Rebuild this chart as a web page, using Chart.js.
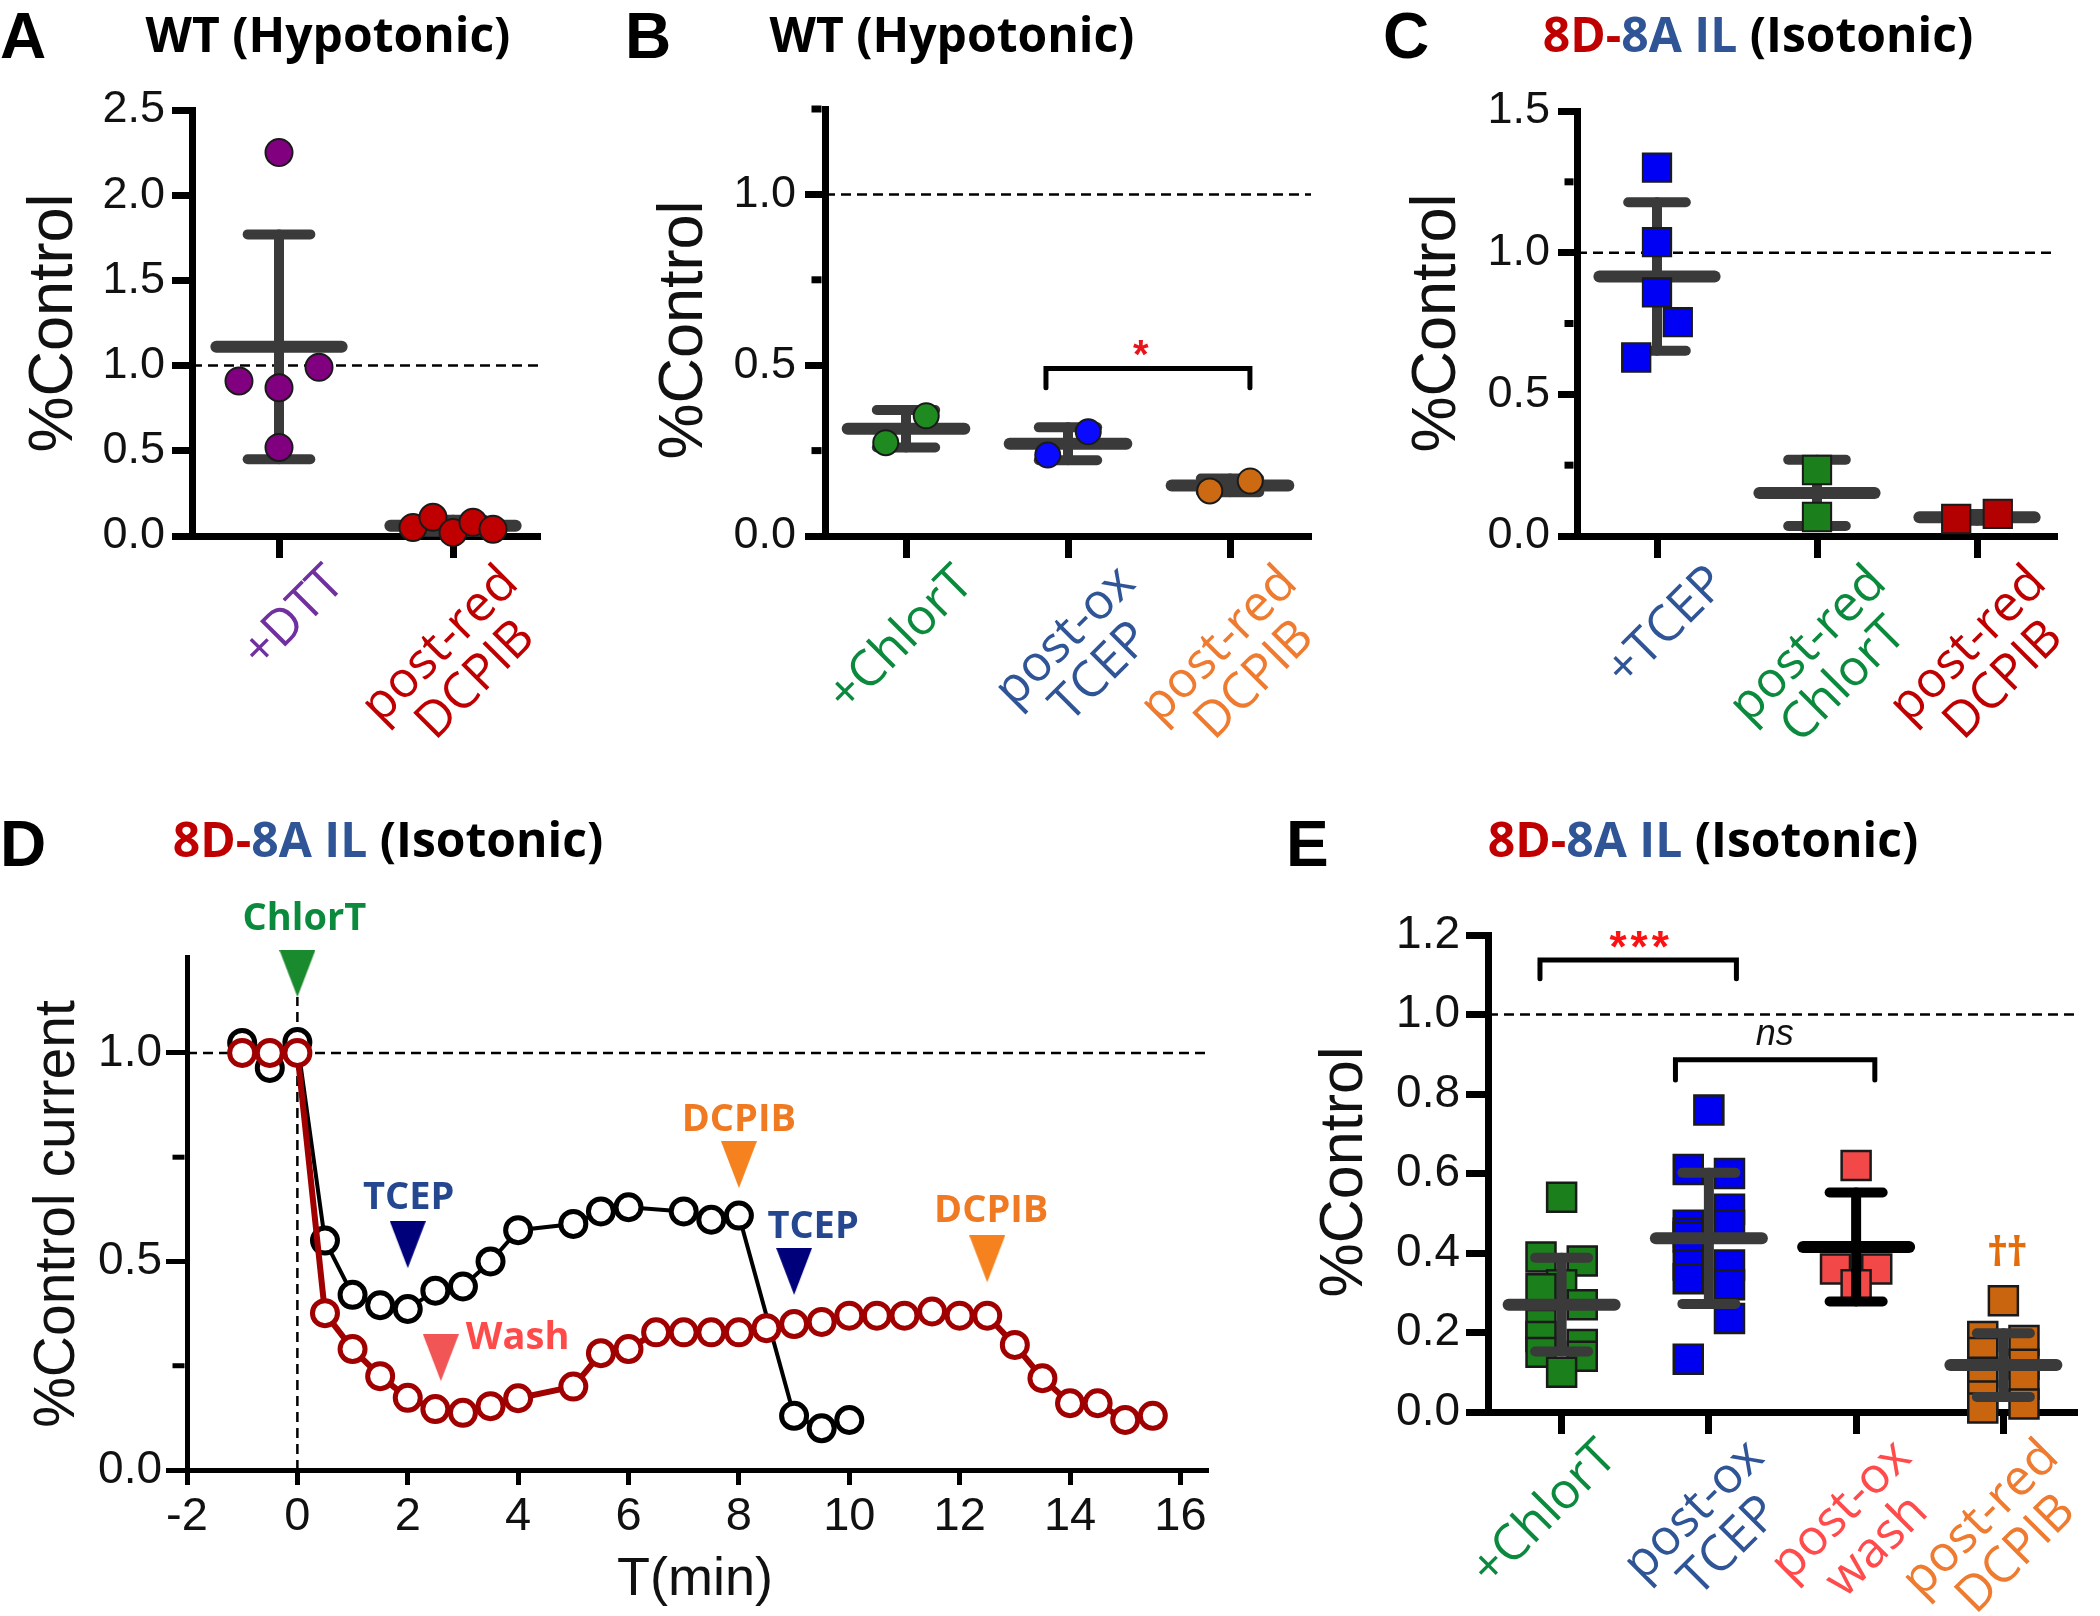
<!DOCTYPE html>
<html>
<head>
<meta charset="utf-8">
<title>Redox figure</title>
<script src="https://cdn.jsdelivr.net/npm/chart.js@4.4.1/dist/chart.umd.min.js"></script>
<style>
  html, body { margin: 0; padding: 0; background: #fff; }
  body { position: relative; width: 2100px; height: 1616px; overflow: hidden; }
  canvas { position: absolute; }
</style>
</head>
<body>
<canvas id="panelA"></canvas>
<canvas id="panelB"></canvas>
<canvas id="panelC"></canvas>
<canvas id="panelD"></canvas>
<canvas id="panelE"></canvas>
<script>
// ---------- data ----------
// A: WT (Hypotonic)
const A_CATS = [['+DTT'], ['post-red', 'DCPIB']];
const A_VALUES = [[2.25, 0.91, 0.87, 0.99, 0.52], [0.05, 0.11, 0.02, 0.08, 0.04]];
const A_SLOTS = [[0, -2, 0, 2, 0], [-2, -1, 0, 1, 2]];
const A_MEAN = [1.11, 0.06];
const A_SD = [0.66, 0.035];
const A_YTICKS = [0, 0.5, 1.0, 1.5, 2.0, 2.5];

// B: WT (Hypotonic)
const B_CATS = [['+ChlorT'], ['post-ox', 'TCEP'], ['post-red', 'DCPIB']];
const B_VALUES = [[0.273, 0.352], [0.237, 0.305], [0.132, 0.161]];
const B_SLOTS = [[-1, 1], [-1, 1], [-1, 1]];
const B_MEAN = [0.314, 0.27, 0.148];
const B_SD = [0.055, 0.048, 0.02];
const B_BRACKET = [0.864, 2.123, 0.49, 0.434];
const B_YTICKS = [0, 0.25, 0.5, 0.75, 1.0, 1.25];

// C: 8D-8A IL (Isotonic)
const C_CATS = [['+TCEP'], ['post-red', 'ChlorT'], ['post-red', 'DCPIB']];
const C_VALUES = [[1.30, 1.037, 0.86, 0.755, 0.63], [0.233, 0.067], [0.06, 0.078]];
const C_SLOTS = [[0, 0, 0, 1, -1], [0, 0], [-1, 1]];
const C_MEAN = [0.916, 0.152, 0.066];
const C_SD = [0.262, 0.117, 0.012];
const C_YTICKS = [0, 0.25, 0.5, 0.75, 1.0, 1.25, 1.5];

// D: time course
const D_BLACK_T = [-1, -0.5, 0, 0.5, 1, 1.5, 2, 2.5, 3, 3.5, 4, 5, 5.5, 6, 7, 7.5, 8, 9, 9.5, 10];
const D_BLACK_Y = [1.024, 0.964, 1.026, 0.55, 0.42, 0.395, 0.386, 0.43, 0.44, 0.50, 0.575, 0.59, 0.62, 0.63, 0.62, 0.60, 0.61, 0.13, 0.10, 0.12];
const D_RED_T = [-1, -0.5, 0, 0.5, 1, 1.5, 2, 2.5, 3, 3.5, 4, 5, 5.5, 6, 6.5, 7, 7.5, 8, 8.5, 9, 9.5, 10, 10.5, 11, 11.5, 12, 12.5, 13, 13.5, 14, 14.5, 15, 15.5];
const D_RED_Y = [1.0, 1.0, 1.0, 0.376, 0.29, 0.225, 0.173, 0.146, 0.137, 0.153, 0.172, 0.20, 0.28, 0.29, 0.33, 0.33, 0.33, 0.33, 0.34, 0.35, 0.355, 0.37, 0.37, 0.37, 0.38, 0.37, 0.37, 0.30, 0.22, 0.16, 0.16, 0.12, 0.13];
const D_ARROW_X = [0, 2, 2.6, 8, 9, 12.5];
const D_ARROW_TIP = [1.134, 0.484, 0.213, 0.676, 0.42, 0.45];
const D_ARROW_TEXT = ['ChlorT', 'TCEP', 'Wash', 'DCPIB', 'TCEP', 'DCPIB'];
const D_ARROW_KIND = ['chlor', 'tcep', 'wash', 'dcpib', 'tcep', 'dcpib'];
const D_XTICKS = [-2, 0, 2, 4, 6, 8, 10, 12, 14, 16];
const D_YTICKS = [0, 0.25, 0.5, 0.75, 1.0];

// E: 8D-8A IL (Isotonic)
const E_CATS = [['+ChlorT'], ['post-ox', 'TCEP'], ['post-ox', 'wash'], ['post-red', 'DCPIB']];
const E_VALUES = [
  [0.54, 0.39, 0.38, 0.32, 0.31, 0.27, 0.22, 0.19, 0.17, 0.15, 0.14, 0.10],
  [0.76, 0.61, 0.60, 0.51, 0.47, 0.47, 0.45, 0.44, 0.37, 0.37, 0.335, 0.32, 0.235, 0.133],
  [0.62, 0.36, 0.36, 0.32],
  [0.28, 0.19, 0.18, 0.15, 0.12, 0.10, 0.07, 0.04, 0.02, 0.01]
];
const E_SLOTS = [
  [0, -1, 1, 0, -1, 1, -1, -1, 1, -1, 1, 0],
  [0, -1, 1, 1, -1, 1, -1, -1, -1, 1, -1, 1, 1, -1],
  [0, -1, 1, 0],
  [0, -1, 1, -1, 1, -1, 1, -1, 1, -1]
];
const E_MEAN = [0.27, 0.437, 0.415, 0.118];
const E_SD = [0.118, 0.165, 0.137, 0.08];
const E_BRACKETS = [[-0.147, 1.187, 1.137, 1.09], [0.773, 2.127, 0.886, 0.835]];
const E_YTICKS = [0, 0.2, 0.4, 0.6, 0.8, 1.0, 1.2];

// ---------- styles ----------
const NUM = "'Liberation Sans', Arial, Helvetica, sans-serif";
const SANS = "'Open Sans', 'Noto Sans', sans-serif";
const BAR = '#3a3a3a';
const MEAN_HALF = 0.36, CAP_HALF = 0.18;
const CAT_FONT = 50, CAT_LINE = 50;
const RED_T = '#c00000', BLUE_T = '#2f5597', GREEN_T = '#0b8a3e', ORANGE_T = '#ee7b2f', PINK_T = '#ff4b4b', PURPLE_T = '#7030a0';
const ISO_TITLE = [{ t: '8D-', c: RED_T }, { t: '8A IL', c: BLUE_T }, { t: ' (Isotonic)', c: '#000' }];
const HYPO_TITLE = [{ t: 'WT (Hypotonic)', c: '#000' }];

const TRI_W = 36, TRI_H = 47;
function triangle(color) {
  const c = document.createElement('canvas');
  c.width = TRI_W; c.height = TRI_H * 2;
  const g = c.getContext('2d');
  g.fillStyle = color;
  g.beginPath(); g.moveTo(0, 0); g.lineTo(TRI_W, 0); g.lineTo(TRI_W / 2, TRI_H); g.closePath(); g.fill();
  return c;
}
const TRI = { chlor: triangle('#1a8a2e'), tcep: triangle('#00007a'), wash: triangle('#f25555'), dcpib: triangle('#f5821f') };
const ARROW_TEXT_COLOR = { chlor: '#0b8a3e', tcep: '#24478f', wash: '#ff4a4a', dcpib: '#f07a22' };
// label offsets from (arrow x, triangle top): dx, dy, align
const ARROW_LABEL_POS = [[7, -20, 'center'], [1, -12, 'center'], [25, 15, 'left'], [0, -10, 'center'], [19, -10, 'center'], [4, -13, 'center']];

function isStep(v, step) { const r = v / step; return Math.abs(r - Math.round(r)) < 1e-6; }

// ---------- dataset builders ----------
function pointSets(values, slots, jitter, st, order) {
  return values.map((vals, i) => ({
    data: vals.map((v, k) => ({ x: i + slots[i][k] * jitter, y: v })),
    pointStyle: st.shape, pointRadius: st.radius,
    pointBackgroundColor: st.fills[i], backgroundColor: st.fills[i],
    pointBorderColor: st.edge, borderColor: st.edge, pointBorderWidth: st.edgeWidth,
    order, clip: false
  }));
}

function barSets(means, sds, colorFn, order) {
  const meanPts = [], sdPts = [];
  means.forEach((m, i) => {
    const s = sds[i];
    meanPts.push({ x: i - MEAN_HALF, y: m }, { x: i + MEAN_HALF, y: m }, { x: i, y: null });
    sdPts.push({ x: i, y: m - s }, { x: i, y: m + s }, { x: i, y: null },
      { x: i - CAP_HALF, y: m + s }, { x: i + CAP_HALF, y: m + s }, { x: i, y: null },
      { x: i - CAP_HALF, y: m - s }, { x: i + CAP_HALF, y: m - s }, { x: i, y: null });
  });
  const seg = { borderColor: (c) => colorFn(Math.round(c.p0.parsed.x)) };
  return [
    { data: sdPts, showLine: true, borderWidth: 10, borderColor: BAR, segment: seg, borderCapStyle: 'round', pointRadius: 0, order, clip: false },
    { data: meanPts, showLine: true, borderWidth: 12, borderColor: BAR, segment: seg, borderCapStyle: 'round', pointRadius: 0, order, clip: false }
  ];
}

function dashedLine(pts) {
  return { data: pts, showLine: true, borderColor: '#000', borderWidth: 2.5, borderDash: [10, 6], pointRadius: 0, order: 9, clip: false };
}

function bracketSet(b) {
  return {
    data: [{ x: b[0], y: b[3] }, { x: b[0], y: b[2] }, { x: b[1], y: b[2] }, { x: b[1], y: b[3] }],
    showLine: true, borderColor: '#000', borderWidth: 5, borderJoinStyle: 'miter', borderCapStyle: 'round',
    pointRadius: 0, order: 0, clip: false
  };
}

// ---------- decoration plugin ----------
function drawTitle(ctx, parts, cx, y) {
  ctx.font = 'bold 48px ' + SANS;
  ctx.textAlign = 'left'; ctx.textBaseline = 'alphabetic';
  const total = parts.reduce((s, p) => s + ctx.measureText(p.t).width, 0);
  let x = cx - total / 2;
  parts.forEach((p) => { ctx.fillStyle = p.c; ctx.fillText(p.t, x, y); x += ctx.measureText(p.t).width; });
}

function decorPlugin(p) {
  return {
    id: 'decor',
    afterDraw(chart) {
      const ctx = chart.ctx, xs = chart.scales.x, ys = chart.scales.y, area = chart.chartArea;
      ctx.save();
      // minor y ticks
      ctx.strokeStyle = '#000'; ctx.lineWidth = p.axisWidth;
      p.yTicks.filter((v) => !isStep(v, p.yLabelStep)).forEach((v) => {
        const y = ys.getPixelForValue(v);
        ctx.beginPath();
        ctx.moveTo(area.left - p.axisWidth / 2, y);
        ctx.lineTo(area.left - p.axisWidth / 2 - p.minorLen, y);
        ctx.stroke();
      });
      // rotated category labels
      if (p.cats) {
        ctx.font = CAT_FONT + 'px ' + SANS;
        p.cats.forEach((lines, i) => {
          const w = Math.max(...lines.map((l) => ctx.measureText(l).width));
          ctx.save();
          ctx.translate(xs.getPixelForValue(i) + p.catDx, area.bottom + p.catDy);
          ctx.rotate(-Math.PI / 4);
          ctx.fillStyle = p.catColors[i];
          ctx.textAlign = 'center'; ctx.textBaseline = 'alphabetic';
          lines.forEach((l, k) => ctx.fillText(l, -w / 2, CAT_FONT * 0.72 + k * CAT_LINE));
          ctx.restore();
        });
      }
      // text marks at data positions
      (p.marks || []).forEach((m) => {
        ctx.font = m.font; ctx.fillStyle = m.color;
        ctx.textAlign = 'center'; ctx.textBaseline = 'alphabetic';
        ctx.letterSpacing = m.spacing || '0px';
        ctx.fillText(m.t, xs.getPixelForValue(m.x), ys.getPixelForValue(m.y));
        ctx.letterSpacing = '0px';
      });
      // arrow labels (panel D)
      if (p.arrows) {
        ctx.font = 'bold 38px ' + SANS; ctx.textBaseline = 'alphabetic';
        D_ARROW_X.forEach((x, i) => {
          const pos = ARROW_LABEL_POS[i];
          const top = ys.getPixelForValue(D_ARROW_TIP[i]) - TRI_H;
          ctx.fillStyle = ARROW_TEXT_COLOR[D_ARROW_KIND[i]];
          ctx.textAlign = pos[2];
          ctx.fillText(D_ARROW_TEXT[i], xs.getPixelForValue(x) + pos[0], top + pos[1]);
        });
      }
      // page-level texts
      ctx.translate(-p.left, -p.top);
      ctx.fillStyle = '#000';
      ctx.font = 'bold 64px ' + NUM; ctx.textAlign = 'left'; ctx.textBaseline = 'alphabetic';
      ctx.fillText(p.letter.t, p.letter.x, p.letter.y);
      drawTitle(ctx, p.title.parts, p.title.cx, p.title.y);
      ctx.fillStyle = '#111';
      ctx.save();
      ctx.translate(p.yTitle.x, p.yTitle.y);
      ctx.rotate(-Math.PI / 2);
      ctx.font = p.yTitle.size + 'px ' + NUM; ctx.textAlign = 'center'; ctx.textBaseline = 'middle';
      ctx.fillText(p.yTitle.t, 0, 0);
      ctx.restore();
      if (p.xTitle) {
        ctx.font = p.xTitle.size + 'px ' + NUM; ctx.textAlign = 'center'; ctx.textBaseline = 'alphabetic';
        ctx.fillText(p.xTitle.t, p.xTitle.x, p.xTitle.y);
      }
      ctx.restore();
    }
  };
}

// ---------- chart builder ----------
function makeChart(p, datasets) {
  const c = document.getElementById(p.id);
  c.width = p.w; c.height = p.h;
  Object.assign(c.style, { left: p.left + 'px', top: p.top + 'px', width: p.w + 'px', height: p.h + 'px' });
  return new Chart(c, {
    type: 'scatter',
    data: { datasets },
    options: {
      responsive: false, animation: false, events: [],
      layout: { padding: { left: 0, top: p.area.top, right: p.w - p.area.right, bottom: 0 } },
      plugins: { legend: { display: false }, tooltip: { enabled: false } },
      scales: {
        x: {
          type: 'linear', min: p.xMin, max: p.xMax,
          afterBuildTicks: (s) => { s.ticks = p.xTicks.map((v) => ({ value: v })); },
          afterFit: (s) => { s.height = p.h - p.area.bottom; },
          border: { display: true, color: '#000', width: p.axisWidth },
          grid: { display: true, drawOnChartArea: false, drawTicks: true, tickLength: p.xTickLen, tickWidth: p.axisWidth, tickColor: '#000' },
          ticks: { display: !!p.xTickFont, autoSkip: false, maxRotation: 0, minRotation: 0, color: '#111', font: p.xTickFont, padding: p.xPad || 0, callback: (v) => String(v) }
        },
        y: {
          type: 'linear', min: p.yMin, max: p.yMax,
          afterBuildTicks: (s) => { s.ticks = p.yTicks.map((v) => ({ value: v })); },
          afterFit: (s) => { s.width = p.area.left; },
          border: { display: true, color: '#000', width: p.axisWidth },
          grid: {
            display: true, drawOnChartArea: false, drawTicks: true, tickLength: p.yTickLen, tickWidth: p.axisWidth,
            tickColor: (ctx) => (ctx.tick && !isStep(ctx.tick.value, p.yLabelStep)) ? 'rgba(0,0,0,0)' : '#000'
          },
          ticks: { autoSkip: false, color: '#111', font: p.yTickFont, padding: p.yPad, callback: (v) => isStep(v, p.yLabelStep) ? v.toFixed(1) : '' }
        }
      }
    },
    plugins: [decorPlugin(p)]
  });
}

const catTicks = (cats) => cats.map((c, i) => i);

// ---------- panel A ----------
const pA = {
  id: 'panelA', left: 0, top: 0, w: 580, h: 790, area: { left: 192, top: 110, right: 540, bottom: 536 },
  axisWidth: 7, xMin: -0.5, xMax: 1.5, xTicks: catTicks(A_CATS), xTickLen: 22,
  yMin: 0, yMax: 2.5, yTicks: A_YTICKS, yLabelStep: 0.5, yTickLen: 20, minorLen: 10,
  yTickFont: { family: NUM, size: 45 }, yPad: 7,
  cats: A_CATS, catColors: [PURPLE_T, RED_T], catDx: 42, catDy: 24,
  letter: { t: 'A', x: 0, y: 58 }, title: { parts: HYPO_TITLE, cx: 328, y: 52 },
  yTitle: { t: '%Control', x: 55, y: 323, size: 63 }
};
makeChart(pA, [
  ...pointSets(A_VALUES, A_SLOTS, 0.115, { shape: 'circle', radius: 13.5, fills: ['#800080', '#c00000'], edge: '#1a1a1a', edgeWidth: 2 }, 0),
  ...barSets(A_MEAN, A_SD, () => BAR, 1),
  dashedLine([{ x: -0.5, y: 1 }, { x: 1.5, y: 1 }])
]);

// ---------- panel B ----------
const pB = {
  id: 'panelB', left: 580, top: 0, w: 780, h: 790, area: { left: 245, top: 109, right: 731, bottom: 536 },
  axisWidth: 7, xMin: -0.5, xMax: 2.5, xTicks: catTicks(B_CATS), xTickLen: 22,
  yMin: 0, yMax: 1.25, yTicks: B_YTICKS, yLabelStep: 0.5, yTickLen: 20, minorLen: 10,
  yTickFont: { family: NUM, size: 45 }, yPad: 9,
  cats: B_CATS, catColors: [GREEN_T, BLUE_T, ORANGE_T], catDx: 44, catDy: 24,
  marks: [{ t: '*', x: 1.45, y: 0.492, font: 'bold 40px ' + NUM, color: '#e8141c' }],
  letter: { t: 'B', x: 625, y: 58 }, title: { parts: HYPO_TITLE, cx: 952, y: 52 },
  yTitle: { t: '%Control', x: 685, y: 330, size: 63 }
};
makeChart(pB, [
  ...pointSets(B_VALUES, B_SLOTS, 0.125, { shape: 'circle', radius: 12.5, fills: ['#1f8a1f', '#0a0aff', '#cc6a14'], edge: '#1a1a1a', edgeWidth: 2 }, 0),
  ...barSets(B_MEAN, B_SD, () => BAR, 1),
  bracketSet(B_BRACKET),
  dashedLine([{ x: -0.5, y: 1 }, { x: 2.5, y: 1 }])
]);

// ---------- panel C ----------
const pC = {
  id: 'panelC', left: 1360, top: 0, w: 740, h: 790, area: { left: 217, top: 111, right: 697, bottom: 536 },
  axisWidth: 7, xMin: -0.5, xMax: 2.5, xTicks: catTicks(C_CATS), xTickLen: 22,
  yMin: 0, yMax: 1.5, yTicks: C_YTICKS, yLabelStep: 0.5, yTickLen: 19, minorLen: 9,
  yTickFont: { family: NUM, size: 45 }, yPad: 8,
  cats: C_CATS, catColors: [BLUE_T, GREEN_T, RED_T], catDx: 46, catDy: 24,
  letter: { t: 'C', x: 1383, y: 58 }, title: { parts: ISO_TITLE, cx: 1758, y: 52 },
  yTitle: { t: '%Control', x: 1438, y: 323, size: 63 }
};
makeChart(pC, [
  ...pointSets(C_VALUES, C_SLOTS, 0.13, { shape: 'rect', radius: 20, fills: ['#0000f5', '#1b7f1b', '#b30000'], edge: '#1a1a1a', edgeWidth: 2 }, 0),
  ...barSets(C_MEAN, C_SD, () => BAR, 1),
  dashedLine([{ x: -0.5, y: 1 }, { x: 2.5, y: 1 }])
]);

// ---------- panel D ----------
const pD = {
  id: 'panelD', left: 0, top: 790, w: 1260, h: 826, area: { left: 187, top: 167, right: 1208, bottom: 680 },
  axisWidth: 5, xMin: -2, xMax: 16.5, xTicks: D_XTICKS, xTickLen: 15,
  xTickFont: { family: NUM, size: 47 }, xPad: 4,
  yMin: 0, yMax: 1.23, yTicks: D_YTICKS, yLabelStep: 0.5, yTickLen: 21, minorLen: 12,
  yTickFont: { family: NUM, size: 46 }, yPad: 4,
  arrows: true,
  letter: { t: 'D', x: 0, y: 866 }, title: { parts: ISO_TITLE, cx: 388, y: 857 },
  yTitle: { t: '%Control current', x: 58, y: 1214, size: 57 },
  xTitle: { t: 'T(min)', x: 695, y: 1595, size: 54 }
};
makeChart(pD, [
  {
    data: D_ARROW_X.map((x, i) => ({ x, y: D_ARROW_TIP[i] })),
    pointStyle: D_ARROW_KIND.map((k) => TRI[k]), pointRadius: 5, order: 0, clip: false
  },
  {
    data: D_RED_T.map((t, i) => ({ x: t, y: D_RED_Y[i] })), showLine: true,
    borderColor: '#a00000', borderWidth: 6, pointRadius: 12.5, pointBorderWidth: 5,
    pointBorderColor: '#a00000', pointBackgroundColor: '#fff', order: 1, clip: false
  },
  {
    data: D_BLACK_T.map((t, i) => ({ x: t, y: D_BLACK_Y[i] })), showLine: true,
    borderColor: '#000', borderWidth: 4, pointRadius: 12.5, pointBorderWidth: 5,
    pointBorderColor: '#000', pointBackgroundColor: '#fff', order: 2, clip: false
  },
  dashedLine([{ x: -2, y: 1 }, { x: 16.5, y: 1 }]),
  dashedLine([{ x: 0, y: 0 }, { x: 0, y: D_ARROW_TIP[0] }])
]);

// ---------- panel E ----------
const pE = {
  id: 'panelE', left: 1260, top: 790, w: 840, h: 826, area: { left: 228, top: 145, right: 828, bottom: 622 },
  axisWidth: 7, xMin: -0.5, xMax: 3.5, xTicks: catTicks(E_CATS), xTickLen: 22,
  yMin: 0, yMax: 1.2, yTicks: E_YTICKS, yLabelStep: 0.2, yTickLen: 22, minorLen: 10,
  yTickFont: { family: NUM, size: 46 }, yPad: 6,
  cats: E_CATS, catColors: [GREEN_T, BLUE_T, PINK_T, ORANGE_T], catDx: 32, catDy: 22,
  marks: [
    { t: '***', x: 0.54, y: 1.132, font: 'bold 44px ' + NUM, color: '#ff1010', spacing: '4px' },
    { t: 'ns', x: 1.447, y: 0.923, font: 'italic 36px ' + NUM, color: '#111' },
    { t: '\u2020\u2020', x: 3.02, y: 0.367, font: 'bold 42px ' + SANS, color: '#e46c0a', spacing: '-2px' }
  ],
  letter: { t: 'E', x: 1286, y: 866 }, title: { parts: ISO_TITLE, cx: 1703, y: 857 },
  yTitle: { t: '%Control', x: 1345, y: 1172, size: 61 }
};
makeChart(pE, [
  ...barSets(E_MEAN, E_SD, (i) => (i === 2 ? '#000' : BAR), 0),
  ...pointSets(E_VALUES, E_SLOTS, 0.14, { shape: 'rect', radius: 20.5, fills: ['#1b7f1b', '#0000f0', '#f24848', '#c8650e'], edge: '#1a1a1a', edgeWidth: 2.5 }, 1),
  ...E_BRACKETS.map(bracketSet),
  dashedLine([{ x: -0.5, y: 1 }, { x: 3.5, y: 1 }])
]);
</script>
</body>
</html>
